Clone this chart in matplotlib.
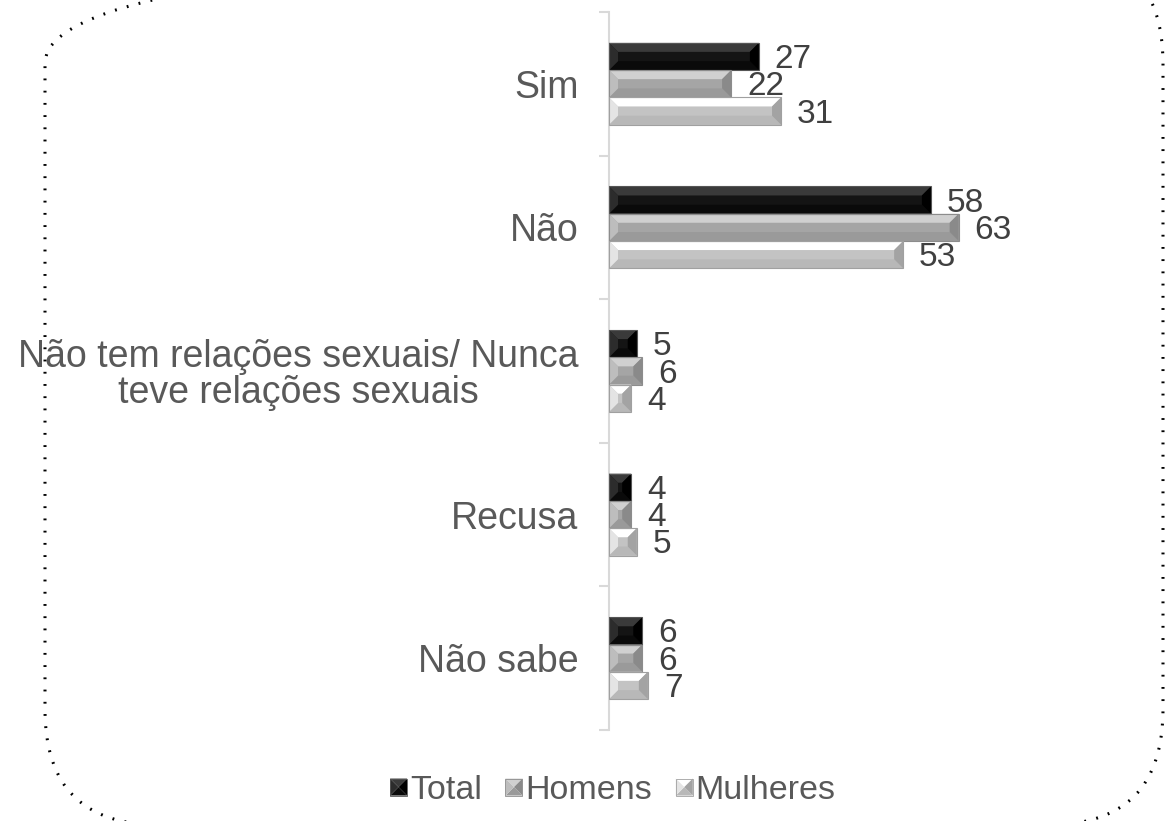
import matplotlib
matplotlib.use("Agg")
import matplotlib.pyplot as plt
from matplotlib.patches import Polygon, Rectangle, FancyBboxPatch
from matplotlib.legend_handler import HandlerBase
import numpy as np

plt.rcParams['font.family'] = ['Liberation Sans', 'DejaVu Sans']

categories = ["Sim", "Não", "Não tem relações sexuais/ Nunca\nteve relações sexuais", "Recusa", "Não sabe"]
series_names = ["Total", "Homens", "Mulheres"]
total = [27, 58, 5, 4, 6]
homens = [22, 63, 6, 4, 6]
mulheres = [31, 53, 4, 5, 7]
series_values = [total, homens, mulheres]

# bevel colours: face, top, bottom, left, right, edge
styles = [
    dict(face='#141414', top='#3a3a3a', bottom='#0a0a0a', left='#2c2c2c', right='#000000', edge='#555555'),
    dict(face='#a5a5a5', top='#d0d0d0', bottom='#9a9a9a', left='#bdbdbd', right='#8a8a8a', edge='#8c8c8c'),
    dict(face='#c3c3c3', top='#ffffff', bottom='#b8b8b8', left='#e4e4e4', right='#a3a3a3', edge='#a0a0a0'),
]

W, H = 1165, 821
fig = plt.figure(figsize=(W / 100, H / 100), dpi=100)
ax = fig.add_axes([609 / W, (H - 730) / H, 555 / W, 718 / H])
ax.set_xlim(0, 100)
ax.set_ylim(len(categories) - 0.5, -0.5)

bar_h = 0.19
offsets = [-bar_h, 0.0, bar_h]
ypos = np.arange(len(categories))


def bevel(ax, patch, st):
    x0, y0 = patch.get_x(), patch.get_y()
    w, h = patch.get_width(), patch.get_height()
    p0 = ax.transData.transform((x0, y0))
    p1 = ax.transData.transform((x0 + w, y0 + h))
    l, r = min(p0[0], p1[0]), max(p0[0], p1[0])
    b_, t = min(p0[1], p1[1]), max(p0[1], p1[1])
    b = min(9.0, (r - l) / 2, (t - b_) / 2)
    inv = ax.transData.inverted()
    polys = {
        'top': [(l, t), (r, t), (r - b, t - b), (l + b, t - b)],
        'bottom': [(l, b_), (r, b_), (r - b, b_ + b), (l + b, b_ + b)],
        'left': [(l, b_), (l, t), (l + b, t - b), (l + b, b_ + b)],
        'right': [(r, b_), (r, t), (r - b, t - b), (r - b, b_ + b)],
    }
    for k, pts in polys.items():
        dp = inv.transform(np.array(pts))
        ax.add_patch(Polygon(dp, closed=True, facecolor=st[k], edgecolor='none', zorder=3))
    ax.add_patch(Rectangle((x0, y0), w, h, facecolor='none', edgecolor=st['edge'], linewidth=0.8, zorder=4))


for i, vals in enumerate(series_values):
    st = styles[i]
    bars = ax.barh(ypos + offsets[i], vals, height=bar_h, color=st['face'], edgecolor='none', zorder=2)
    for patch, v, yc in zip(bars, vals, ypos + offsets[i]):
        bevel(ax, patch, st)
        ax.annotate(str(v), (v, yc), xytext=(11.5, -2.2), textcoords='offset points',
                    va='center', ha='left', fontsize=24, color='#404040')

for s in ['top', 'right', 'bottom']:
    ax.spines[s].set_visible(False)
ax.spines['left'].set_color('#d9d9d9')
ax.spines['left'].set_linewidth(1.5)
ax.set_xticks([])
ax.set_yticks(ypos)
ax.set_yticklabels(categories, fontsize=27, color='#595959')
for lbl in ax.get_yticklabels():
    lbl.set_multialignment('center')
    lbl.set_linespacing(1.0)
ax.tick_params(axis='y', which='major', length=0, pad=22)
ax.set_yticks(np.arange(-0.5, len(categories), 1), minor=True)
ax.tick_params(axis='y', which='minor', length=7.5, width=1.5, color='#d9d9d9')


class BevelHandler(HandlerBase):
    def __init__(self, st):
        super().__init__()
        self.st = st

    def create_artists(self, legend, orig_handle, xdescent, ydescent, width, height, fontsize, trans):
        s = min(width, height)
        x0 = -xdescent + (width - s) / 2
        y0 = -ydescent + (height - s) / 2
        cx, cy = x0 + s / 2, y0 + s / 2
        st = self.st
        tris = [
            ([(x0, y0 + s), (x0 + s, y0 + s), (cx, cy)], st['top']),
            ([(x0, y0), (x0 + s, y0), (cx, cy)], st['bottom']),
            ([(x0, y0), (x0, y0 + s), (cx, cy)], st['left']),
            ([(x0 + s, y0), (x0 + s, y0 + s), (cx, cy)], st['right']),
        ]
        arts = []
        for pts, c in tris:
            p = Polygon(pts, closed=True, facecolor=c, edgecolor='none', transform=trans)
            arts.append(p)
        arts.append(Rectangle((x0, y0), s, s, facecolor='none', edgecolor=st['edge'], linewidth=0.6, transform=trans))
        return arts


proxies = [Rectangle((0, 0), 1, 1) for _ in series_names]
hmap = {p: BevelHandler(st) for p, st in zip(proxies, styles)}
leg = fig.legend(proxies, series_names, handler_map=hmap, loc='center', bbox_to_anchor=(0.526, 0.037),
                 ncol=3, frameon=False, fontsize=24.5, handlelength=0.5, handleheight=0.5,
                 handletextpad=0.08, columnspacing=0.7)
for t in leg.get_texts():
    t.set_color('#595959')

border = FancyBboxPatch((0.45, -0.04), 11.18, 8.77, boxstyle="round,pad=0,rounding_size=1.15",
                        transform=fig.dpi_scale_trans, fill=False, edgecolor='black',
                        linewidth=2.2, linestyle=(0, (0.6, 3.4)), clip_on=False)
fig.add_artist(border)

fig.savefig("out.png", dpi=100)
